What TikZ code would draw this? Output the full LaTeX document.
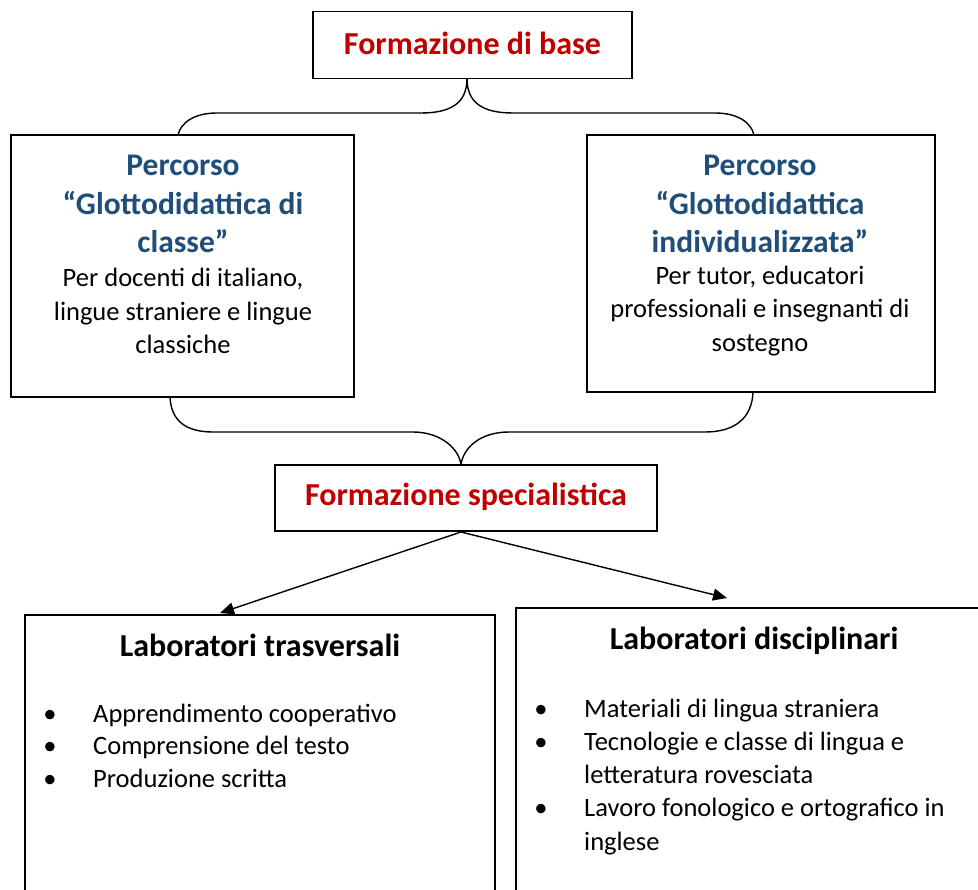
\documentclass[tikz,border=0pt]{standalone}
\usepackage{fontspec}
\setmainfont{Carlito}
\usetikzlibrary{arrows.meta}
\definecolor{hdred}{RGB}{192,0,0}
\definecolor{hdblue}{RGB}{31,78,121}
\tikzset{
  box/.style={draw=black, line width=1.6pt, rectangle, inner sep=0pt},
  conn/.style={draw=black, line width=1.4pt},
  arr/.style={draw=black, line width=1.4pt, -{Triangle[length=14pt,width=12pt]}},
  redhead/.style={font=\fontsize{32}{38}\selectfont\bfseries, text=hdred, inner sep=0pt},
  bluehead/.style={font=\fontsize{31.5}{38.5}\selectfont\bfseries, text=hdblue, align=center, inner sep=0pt},
  body/.style={font=\fontsize{26.5}{33.5}\selectfont, align=center, inner sep=0pt},
  labhead/.style={font=\fontsize{32}{38}\selectfont\bfseries, inner sep=0pt},
  item/.style={font=\fontsize{26.5}{33}\selectfont, inner sep=0pt, anchor=mid west},
  bul/.style={font=\fontsize{26.5}{33}\selectfont, inner sep=0pt, anchor=mid},
}
\begin{document}
\begin{tikzpicture}[x=1pt, y=-1pt]
\useasboundingbox (0,0) rectangle (978,890);
\clip (0,0) rectangle (978,890);
\fill[white] (0,0) rectangle (978,890);

% boxes
\node[box, minimum width=319pt, minimum height=67pt] (top) at (472.5,45) {};
\node[box, minimum width=343pt, minimum height=262pt] (pl) at (182.5,266) {};
\node[box, minimum width=348pt, minimum height=257pt] (pr) at (761,263.5) {};
\node[box, minimum width=382pt, minimum height=66pt] (spec) at (466,498) {};
\node[box, minimum width=470pt, minimum height=290pt] (bl) at (260,760) {};
\node[box, minimum width=479pt, minimum height=297pt] (br) at (755.5,756.5) {};

% texts
\node[redhead] (ttop) at (472.5,43.5) {Formazione di base};
\node[bluehead] (tpl) at (183,204) {Percorso\\“Glottodidattica di\\classe”};
\node[body] (bpl) at (183,311) {Per docenti di italiano,\\lingue straniere e lingue\\classiche};
\node[bluehead] (tpr) at (760,204) {Percorso\\“Glottodidattica\\individualizzata”};
\node[body] (bpr) at (760,311) {Per tutor, educatori\\professionali e insegnanti di\\sostegno};
\node[redhead] (tspec) at (466,497) {Formazione specialistica};
\node[labhead] (tbl) at (260,645) {Laboratori trasversali};
\node[labhead] (tbr) at (754,641) {Laboratori disciplinari};

\node[bul] (b1) at (50,720) {•};
\node[item] (i1) at (93,720) {Apprendimento cooperativo};
\node[bul] (b2) at (50,752) {•};
\node[item] (i2) at (93,752) {Comprensione del testo};
\node[bul] (b3) at (50,785) {•};
\node[item] (i3) at (93,785) {Produzione scritta};

\node[bul] (c1) at (541,715) {•};
\node[item] (j1) at (584,715) {Materiali di lingua straniera};
\node[bul] (c2) at (541,748) {•};
\node[item] (j2) at (584,748) {Tecnologie e classe di lingua e};
\node[item] (j2b) at (584,781) {letteratura rovesciata};
\node[bul] (c3) at (541,814) {•};
\node[item] (j3) at (584,814) {Lavoro fonologico e ortografico in};
\node[item] (j3b) at (584,848) {inglese};

% connector end points
\coordinate (topB) at (467,78.5);
\coordinate (plT) at (178,135);
\coordinate (prT) at (754,135);
\coordinate (plB) at (170,397);
\coordinate (prB) at (753,392);
\coordinate (specT) at (461,465);
\coordinate (specB) at (461,532);
\coordinate (blT) at (220,613);
\coordinate (brT) at (727,598);

% top brace
\draw[conn] (topB) .. controls (467,103) and (451,113) .. (421,113) -- (217,113) .. controls (195,113) and (181,122) .. (plT);
\draw[conn] (topB) .. controls (467,103) and (483,113) .. (513,113) -- (715,113) .. controls (737,113) and (751,122) .. (prT);
% bottom brace
\draw[conn] (plB) .. controls (171,420) and (185,432) .. (213,432) -- (413,432) .. controls (440,432) and (459,448) .. (specT);
\draw[conn] (prB) .. controls (752,418) and (735,432) .. (705,432) -- (509,432) .. controls (480,432) and (463,448) .. (specT);
% arrows
\draw[arr] (specB) -- (blT);
\draw[arr] (specB) -- (brT);
\end{tikzpicture}
\end{document}
